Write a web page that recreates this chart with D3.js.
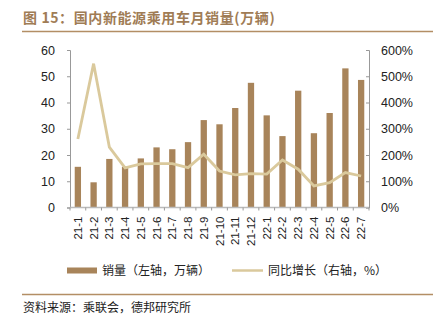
<!DOCTYPE html>
<html><head><meta charset="utf-8">
<script src="https://cdn.jsdelivr.net/npm/d3@7"></script>
<style>body{margin:0;background:#fff}svg{display:block}</style>
</head><body>
<script>
const categories = ["21-1","21-2","21-3","21-4","21-5","21-6","21-7","21-8","21-9","21-10","21-11","21-12","22-1","22-2","22-3","22-4","22-5","22-6","22-7"];
const sales = [15.5,9.6,18.5,15.5,18.7,22.9,22.2,24.9,33.3,31.7,37.9,47.5,35.1,27.2,44.5,28.3,36.0,53.0,48.6];
const yoy = [261,548,230,151,166,167,167,152,203,139,124,129,127,181,146,82,95,133,120];
const leftTicks = [0,10,20,30,40,50,60];
const rightTicks = [0,100,200,300,400,500,600];
const title = "图 15：国内新能源乘用车月销量(万辆)";
const legendBar = "销量（左轴，万辆）";
const legendLine = "同比增长（右轴，%）";
const source = "资料来源：乘联会，德邦研究所";

const W = 442, H = 326;
const barColor = "#a8845a", lineColor = "#dac99c", brown = "#a07c55";
const svg = d3.select("body").append("svg").attr("width", W).attr("height", H);
const font = "'Liberation Sans', Arial, sans-serif";
const cjk = "'Noto Sans CJK SC', sans-serif";

svg.append("text").attr("x", 23).attr("y", 23).text(title)
  .attr("font-family", cjk).attr("font-size", 14).attr("font-weight", "bold").attr("fill", brown).attr("letter-spacing", 0.6);
svg.append("line").attr("x1", 22).attr("x2", 433).attr("y1", 31.5).attr("y2", 31.5).attr("stroke", "#b38e65").attr("stroke-width", 1.5);

const x0 = 70, x1 = 369, yTop = 50, yBot = 207.5;
const x = d3.scaleBand().domain(categories).range([x0, x1]).paddingInner(0.6).paddingOuter(0.3);
const yL = d3.scaleLinear().domain([0, 60]).range([yBot, yTop]);
const yR = d3.scaleLinear().domain([0, 600]).range([yBot, yTop]);

// left axis
const gl = svg.append("g").attr("transform", `translate(${x0},0)`)
  .call(d3.axisLeft(yL).tickValues(leftTicks).tickSize(3).tickPadding(12));
gl.selectAll("path,line").attr("stroke", "#999");
gl.selectAll("text").attr("font-family", font).attr("font-size", 12.5).attr("fill", "#222");

const gr = svg.append("g").attr("transform", `translate(${x1},0)`)
  .call(d3.axisRight(yR).tickValues(rightTicks).tickFormat(d => d + "%").tickSize(-3).tickPadding(12));
gr.selectAll("path,line").attr("stroke", "#999");
gr.selectAll("text").attr("font-family", font).attr("font-size", 12.5).attr("fill", "#222");

// bars
svg.append("g").selectAll("rect").data(sales).join("rect")
  .attr("x", (d, i) => x(categories[i])).attr("width", x.bandwidth())
  .attr("y", d => yL(d)).attr("height", d => yBot - yL(d)).attr("fill", barColor);

// line
const line = d3.line().x((d, i) => x(categories[i]) + x.bandwidth() / 2).y(d => yR(d));
svg.append("path").datum(yoy).attr("d", line).attr("fill", "none").attr("stroke", lineColor).attr("stroke-width", 2.8);

// bottom axis
const step = (x1 - x0) / categories.length;
const gb = svg.append("g").attr("transform", `translate(0,${yBot})`);
gb.append("line").attr("x1", x0).attr("x2", x1).attr("stroke", "#bbb").attr("stroke-width", 1.5);
gb.selectAll("line.t").data(d3.range(categories.length + 1)).join("line").attr("class", "t")
  .attr("x1", i => x0 + i * step).attr("x2", i => x0 + i * step).attr("y1", 0).attr("y2", 3).attr("stroke", "#999");
gb.selectAll("text").data(categories).join("text")
  .attr("transform", d => `translate(${x(d) + x.bandwidth() / 2 + 4},9) rotate(-90)`)
  .attr("text-anchor", "end").text(d => d)
  .attr("font-family", font).attr("font-size", 11.5).attr("fill", "#222");

// legend
const ly = 270.5;
svg.append("rect").attr("x", 67).attr("y", ly - 3).attr("width", 30).attr("height", 6).attr("fill", barColor);
svg.append("text").attr("x", 102).attr("y", ly + 4.5).text(legendBar).attr("font-family", cjk).attr("font-size", 12).attr("fill", "#222");
svg.append("line").attr("x1", 232).attr("x2", 263).attr("y1", ly).attr("y2", ly).attr("stroke", lineColor).attr("stroke-width", 2.5);
svg.append("text").attr("x", 268).attr("y", ly + 4.5).text(legendLine).attr("font-family", cjk).attr("font-size", 12).attr("fill", "#222");

svg.append("line").attr("x1", 22).attr("x2", 433).attr("y1", 294.5).attr("y2", 294.5).attr("stroke", "#b38e65").attr("stroke-width", 1.5);
svg.append("text").attr("x", 23).attr("y", 312).text(source).attr("font-family", cjk).attr("font-size", 12).attr("fill", "#222");
</script>
</body></html>
